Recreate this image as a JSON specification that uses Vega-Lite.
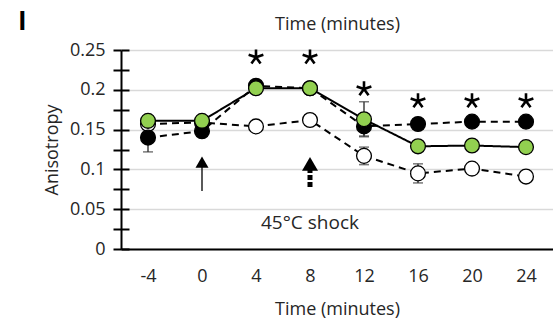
{
  "$schema": "https://vega.github.io/schema/vega-lite/v6.json",
  "width": 432,
  "height": 199,
  "autosize": {"type": "none"},
  "padding": {"left": 121, "top": 50, "right": 0, "bottom": 71},
  "background": "white",
  "config": {
    "font": "Open Sans",
    "view": {"stroke": null},
    "axis": {"labelFont": "Open Sans", "titleFont": "Open Sans", "labelColor": "#262626", "titleColor": "#262626"}
  },
  "title": {"text": "I", "anchor": "start", "frame": "group", "dx": -103, "dy": 46, "baseline": "bottom", "fontSize": 26, "fontWeight": "bold", "font": "Open Sans", "color": "black", "offset": 0},
  "datasets": {
    "series": [
      {"s": "white", "t": -4, "v": 0.157},
      {"s": "white", "t": 0, "v": 0.159},
      {"s": "white", "t": 4, "v": 0.154},
      {"s": "white", "t": 8, "v": 0.162},
      {"s": "white", "t": 12, "v": 0.117},
      {"s": "white", "t": 16, "v": 0.095},
      {"s": "white", "t": 20, "v": 0.101},
      {"s": "white", "t": 24, "v": 0.091},
      {"s": "black", "t": -4, "v": 0.140},
      {"s": "black", "t": 0, "v": 0.148},
      {"s": "black", "t": 4, "v": 0.205},
      {"s": "black", "t": 8, "v": 0.202},
      {"s": "black", "t": 12, "v": 0.154},
      {"s": "black", "t": 16, "v": 0.157},
      {"s": "black", "t": 20, "v": 0.160},
      {"s": "black", "t": 24, "v": 0.160},
      {"s": "green", "t": -4, "v": 0.161},
      {"s": "green", "t": 0, "v": 0.161},
      {"s": "green", "t": 4, "v": 0.202},
      {"s": "green", "t": 8, "v": 0.202},
      {"s": "green", "t": 12, "v": 0.163},
      {"s": "green", "t": 16, "v": 0.129},
      {"s": "green", "t": 20, "v": 0.130},
      {"s": "green", "t": 24, "v": 0.128}
    ],
    "err": [
      {"s": "black", "t": -4, "lo": 0.122, "hi": 0.158},
      {"s": "black", "t": 12, "lo": 0.142, "hi": 0.166},
      {"s": "green", "t": 12, "lo": 0.141, "hi": 0.185},
      {"s": "white", "t": 12, "lo": 0.106, "hi": 0.128},
      {"s": "white", "t": 16, "lo": 0.083, "hi": 0.107}
    ],
    "stars": [
      {"t": 4, "v": 0.241},
      {"t": 8, "v": 0.241},
      {"t": 12, "v": 0.201},
      {"t": 16, "v": 0.186},
      {"t": 20, "v": 0.186},
      {"t": 24, "v": 0.186}
    ],
    "arrowThin": [{"t": 0, "y1": 0.073, "y2": 0.1035, "head": 0.109}],
    "arrowDotted": [{"t": 8, "y1": 0.078, "y2": 0.0997, "head": 0.107}],
    "label": [{"t": 8, "v": 0.033, "text": "45°C shock"}]
  },
  "resolve": {"axis": {"x": "independent", "y": "independent"}},
  "layer": [
    {
      "data": {"name": "series"},
      "mark": {"type": "line", "color": "black", "strokeWidth": 2},
      "encoding": {
        "x": {
          "field": "t", "type": "ordinal",
          "scale": {"type": "point", "padding": 0.5, "domain": [-4, 0, 4, 8, 12, 16, 20, 24]},
          "axis": {"orient": "bottom", "title": "Time (minutes)", "titleFontSize": 18, "titleFontWeight": "normal", "titlePadding": 15, "labelFontSize": 18, "labelPadding": 18, "labelAngle": 0, "ticks": false, "tickSize": 0, "domainColor": "black", "domainWidth": 2, "grid": false}
        },
        "y": {
          "field": "v", "type": "quantitative",
          "scale": {"domain": [0, 0.25], "nice": false, "zero": true},
          "axis": {"orient": "left", "title": "Anisotropy", "values": [0, 0.05, 0.1, 0.15, 0.2, 0.25], "format": "~g", "grid": true, "gridColor": "#d9d9d9", "gridWidth": 1.3, "tickSize": 8, "tickColor": "black", "tickWidth": 2, "domainColor": "black", "domainWidth": 2, "labelFontSize": 18, "labelPadding": 8, "titleFontSize": 18, "titleFontWeight": "normal", "titlePadding": 8}
        },
        "detail": {"field": "s"},
        "strokeDash": {"field": "s", "type": "nominal", "scale": {"domain": ["green", "black", "white"], "range": [[1, 0], [7, 5], [7, 5]]}, "legend": null}
      }
    },
    {
      "data": {"name": "err"},
      "mark": {"type": "rule", "color": "#404040", "strokeWidth": 1.5},
      "encoding": {
        "x": {"field": "t", "type": "ordinal", "axis": null},
        "y": {"field": "lo", "type": "quantitative", "axis": {"orient": "left", "values": [0, 0.025, 0.05, 0.075, 0.1, 0.125, 0.15, 0.175, 0.2, 0.225, 0.25], "labels": false, "domain": false, "grid": false, "tickSize": -8, "tickColor": "black", "tickWidth": 2, "title": null}},
        "y2": {"field": "hi"}
      }
    },
    {
      "data": {"name": "err"},
      "mark": {"type": "tick", "color": "#404040", "size": 10, "thickness": 1.5},
      "encoding": {
        "x": {"field": "t", "type": "ordinal", "axis": null},
        "y": {"field": "lo", "type": "quantitative", "axis": {"orient": "left", "values": [0.025, 0.075, 0.125, 0.175, 0.225], "labels": false, "domain": false, "grid": false, "tickSize": 8, "tickColor": "black", "tickWidth": 2, "title": null}}
      }
    },
    {
      "data": {"name": "err"},
      "mark": {"type": "tick", "color": "#404040", "size": 10, "thickness": 1.5},
      "encoding": {
        "x": {"field": "t", "type": "ordinal", "axis": null},
        "y": {"field": "hi", "type": "quantitative", "axis": null}
      }
    },
    {
      "data": {"name": "series"},
      "mark": {"type": "point", "shape": "circle", "filled": true, "size": 220, "stroke": "black", "strokeWidth": 1.3, "opacity": 1},
      "encoding": {
        "x": {"field": "t", "type": "ordinal", "axis": {"orient": "top", "title": "Time (minutes)", "titleFontSize": 18, "titleFontWeight": "normal", "titlePadding": 17, "labels": false, "ticks": false, "domain": false, "grid": false}},
        "y": {"field": "v", "type": "quantitative", "axis": null},
        "fill": {"field": "s", "type": "nominal", "scale": {"domain": ["white", "black", "green"], "range": ["white", "black", "#92D050"]}, "legend": null}
      }
    },
    {
      "data": {"name": "stars"},
      "mark": {"type": "point", "shape": "M0,0L0,-1M0,0L0.951,-0.309M0,0L0.588,0.809M0,0L-0.588,0.809M0,0L-0.951,-0.309", "filled": false, "stroke": "black", "strokeWidth": 2.6, "size": 240, "opacity": 1},
      "encoding": {
        "x": {"field": "t", "type": "ordinal", "axis": null},
        "y": {"field": "v", "type": "quantitative", "axis": null}
      }
    },
    {
      "data": {"name": "arrowThin"},
      "mark": {"type": "rule", "color": "black", "strokeWidth": 1.3},
      "encoding": {
        "x": {"field": "t", "type": "ordinal", "axis": null},
        "y": {"field": "y1", "type": "quantitative", "axis": null},
        "y2": {"field": "y2"}
      }
    },
    {
      "data": {"name": "arrowThin"},
      "mark": {"type": "point", "shape": "triangle-up", "filled": true, "color": "black", "size": 169, "opacity": 1},
      "encoding": {
        "x": {"field": "t", "type": "ordinal", "axis": null},
        "y": {"field": "head", "type": "quantitative", "axis": null}
      }
    },
    {
      "data": {"name": "arrowDotted"},
      "mark": {"type": "rule", "color": "black", "strokeWidth": 5, "strokeDash": [5, 2]},
      "encoding": {
        "x": {"field": "t", "type": "ordinal", "axis": null},
        "y": {"field": "y1", "type": "quantitative", "axis": null},
        "y2": {"field": "y2"}
      }
    },
    {
      "data": {"name": "arrowDotted"},
      "mark": {"type": "point", "shape": "triangle-up", "filled": true, "color": "black", "size": 256, "opacity": 1},
      "encoding": {
        "x": {"field": "t", "type": "ordinal", "axis": null},
        "y": {"field": "head", "type": "quantitative", "axis": null}
      }
    },
    {
      "data": {"name": "label"},
      "mark": {"type": "text", "fontSize": 19, "font": "Open Sans", "color": "#262626", "align": "center", "baseline": "middle"},
      "encoding": {
        "x": {"field": "t", "type": "ordinal", "axis": null},
        "y": {"field": "v", "type": "quantitative", "axis": null},
        "text": {"field": "text"}
      }
    }
  ]
}
